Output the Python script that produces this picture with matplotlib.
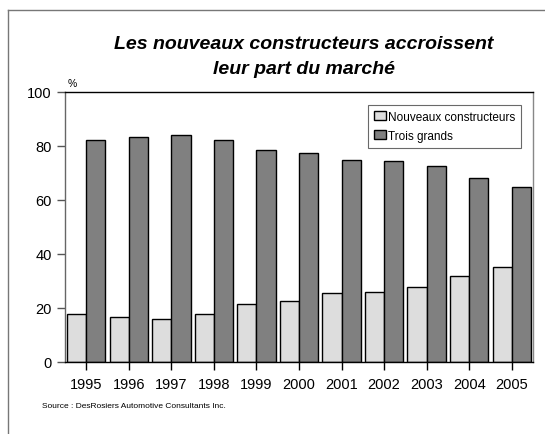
import numpy as np
import matplotlib
matplotlib.use('Agg')
import matplotlib.pyplot as plt
from matplotlib.lines import Line2D

# Market share (%) by year
years = ['1995', '1996', '1997', '1998', '1999', '2000', '2001', '2002', '2003', '2004', '2005']
nouveaux = [17.8, 16.8, 16.0, 17.8, 21.6, 22.6, 25.7, 25.9, 27.6, 31.7, 35.1]
trois_grands = [82.2, 83.2, 83.9, 82.4, 78.4, 77.5, 74.7, 74.4, 72.6, 68.1, 64.8]

plt.rcParams['font.family'] = ['Liberation Sans', 'DejaVu Sans']

fig = plt.figure(figsize=(5.45, 4.35), dpi=100)
ax = fig.add_axes([65 / 545, 1 - 363 / 435, 468 / 545, 270 / 435])

x = np.arange(len(years))
w = 0.45
ax.bar(x - w / 2, nouveaux, w, color='#dddddd', edgecolor='black', linewidth=1,
       label='Nouveaux constructeurs')
ax.bar(x + w / 2, trois_grands, w, color='#808080', edgecolor='black', linewidth=1,
       label='Trois grands')

ax.set_xlim(-0.5, len(years) - 0.5)
ax.set_ylim(0, 100)
ax.set_yticks(range(0, 101, 20))
ax.set_xticks(x)
ax.set_xticklabels(years)
ax.tick_params(axis='both', labelsize=10.5, length=6, width=1, direction='out')
ax.tick_params(axis='y', colors='#555555', labelcolor='black')
ax.tick_params(axis='x', pad=5)

ax.spines['top'].set_color('black')
ax.spines['bottom'].set_color('black')
ax.spines['left'].set_color('#666666')
ax.spines['right'].set_color('#888888')
for s in ax.spines.values():
    s.set_linewidth(1)

leg = ax.legend(loc='upper right', fontsize=8.5, frameon=True, fancybox=False,
                handlelength=1.0, handleheight=0.7, handletextpad=0.2,
                borderpad=0.5, labelspacing=0.6, bbox_to_anchor=(0.988, 0.975))
leg.get_frame().set_edgecolor('#444444')
leg.get_frame().set_linewidth(0.8)

fig.text(304 / 545, 1 - 49 / 435, 'Les nouveaux constructeurs accroissent',
         ha='center', va='baseline', fontsize=14, fontweight='bold', fontstyle='italic')
fig.text(304 / 545, 1 - 74 / 435, 'leur part du marché',
         ha='center', va='baseline', fontsize=14, fontweight='bold', fontstyle='italic')
fig.text(68 / 545, 1 - 84 / 435, '%', ha='left', va='center', fontsize=7.5)
fig.text(42 / 545, 1 - 407 / 435, 'Source : DesRosiers Automotive Consultants Inc.',
         ha='left', va='center', fontsize=6)

# outer frame (left and top edges visible)
fig.add_artist(Line2D([8 / 545, 8 / 545], [0, 1 - 11 / 435], transform=fig.transFigure,
                      color='#777777', linewidth=1))
fig.add_artist(Line2D([8 / 545, 1], [1 - 11 / 435, 1 - 11 / 435], transform=fig.transFigure,
                      color='#777777', linewidth=1))

fig.savefig('out.png', dpi=100)
